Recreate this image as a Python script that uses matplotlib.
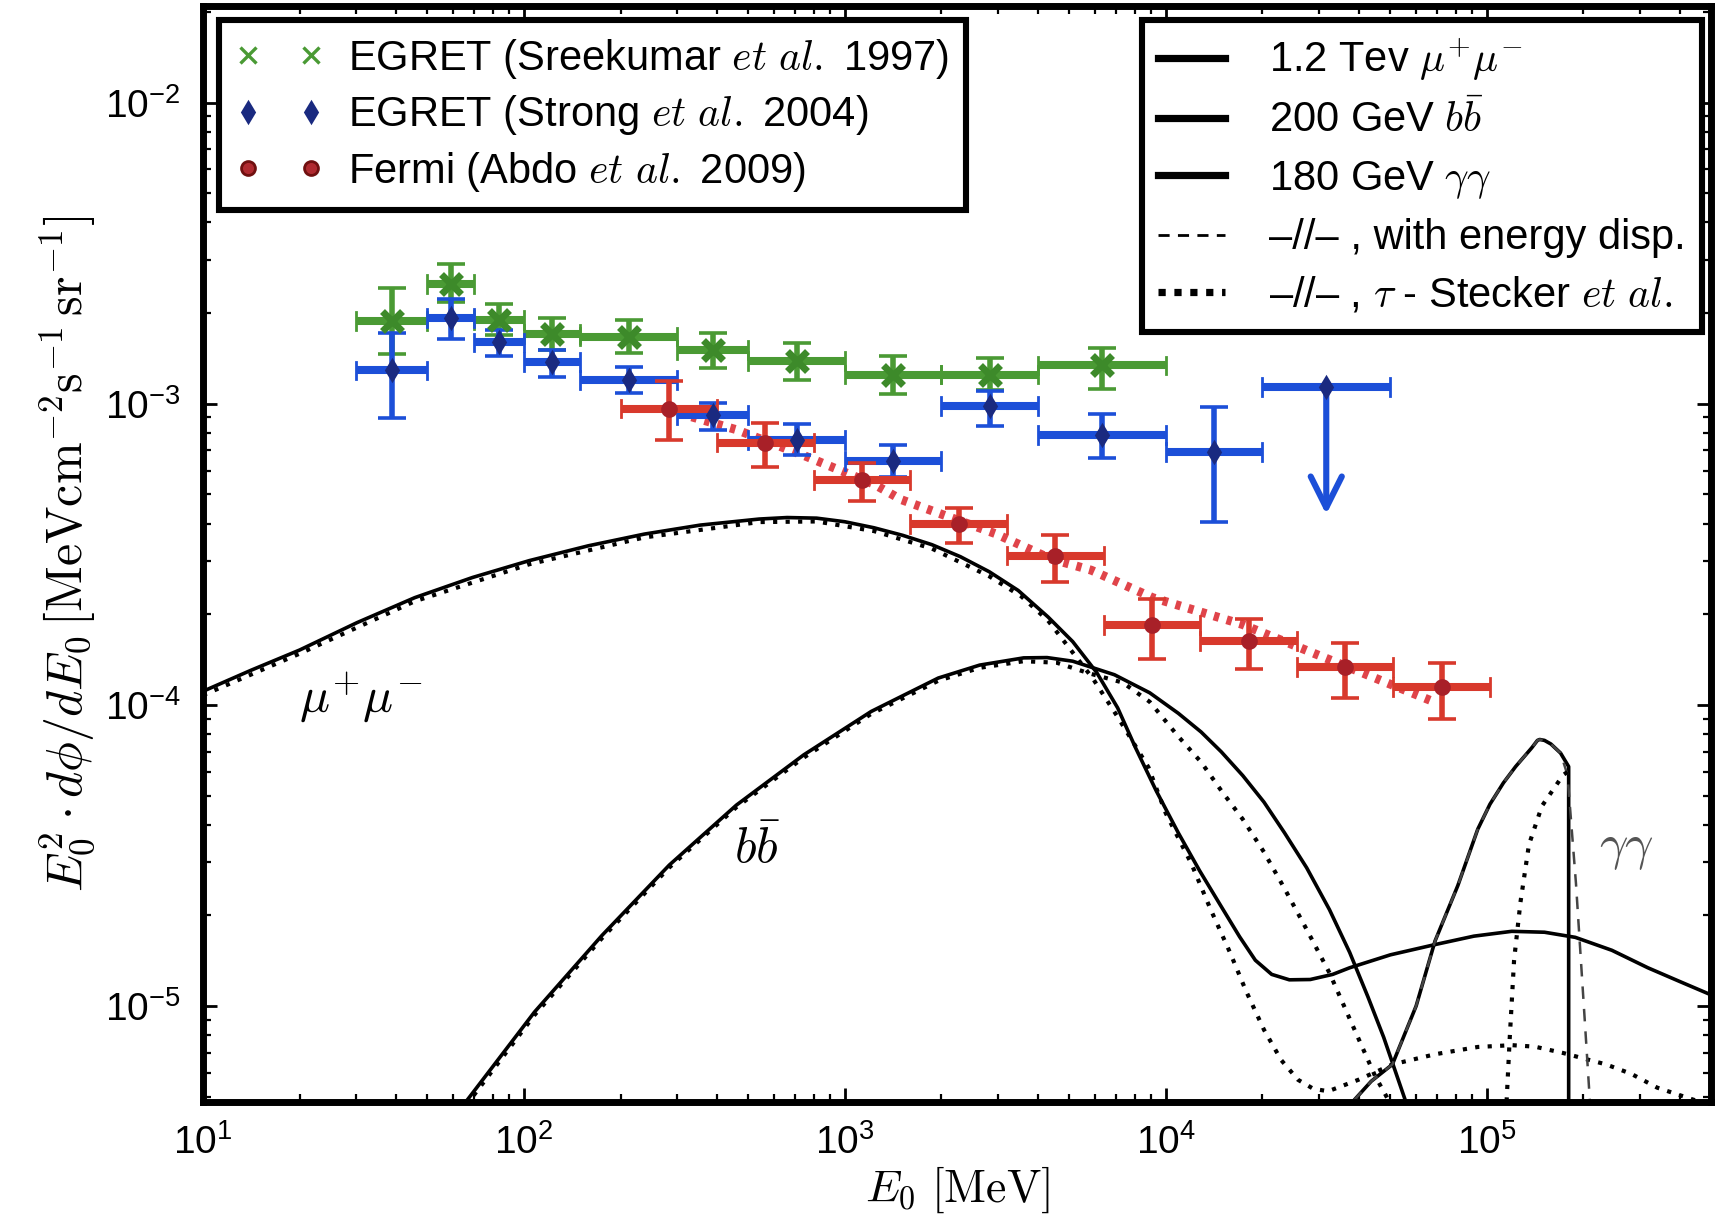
import numpy as np
import matplotlib
matplotlib.use("Agg")
import matplotlib.pyplot as plt
from matplotlib.lines import Line2D

plt.rcParams["font.family"] = ["Liberation Sans", "DejaVu Sans"]
plt.rcParams["mathtext.fontset"] = "cm"

# ---- EGRET (Sreekumar et al. 1997): bins in MeV, flux, error range
sree_lo = np.array([30, 50, 70, 100, 150, 300, 500, 1000, 2000, 4000])
sree_hi = np.array([50, 70, 100, 150, 300, 500, 1000, 2000, 4000, 10000])
sree_y = np.array([1.88e-3, 2.50e-3, 1.90e-3, 1.70e-3, 1.67e-3, 1.51e-3, 1.385e-3, 1.25e-3, 1.25e-3, 1.34e-3])
sree_ylo = np.array([1.46e-3, 2.17e-3, 1.69e-3, 1.51e-3, 1.47e-3, 1.31e-3, 1.195e-3, 1.077e-3, 1.107e-3, 1.12e-3])
sree_yhi = np.array([2.42e-3, 2.92e-3, 2.14e-3, 1.93e-3, 1.89e-3, 1.72e-3, 1.59e-3, 1.444e-3, 1.414e-3, 1.536e-3])

# ---- EGRET (Strong et al. 2004)
strong_lo = np.array([30, 50, 70, 100, 150, 300, 500, 1000, 2000, 4000, 10000])
strong_hi = np.array([50, 70, 100, 150, 300, 500, 1000, 2000, 4000, 10000, 20000])
strong_y = np.array([1.29e-3, 1.93e-3, 1.597e-3, 1.377e-3, 1.20e-3, 9.17e-4, 7.59e-4, 6.46e-4, 9.83e-4, 7.89e-4, 6.90e-4])
strong_ylo = np.array([8.99e-4, 1.64e-3, 1.443e-3, 1.227e-3, 1.085e-3, 8.2e-4, 6.76e-4, 5.71e-4, 8.42e-4, 6.59e-4, 4.06e-4])
strong_yhi = np.array([1.72e-3, 2.22e-3, 1.76e-3, 1.51e-3, 1.324e-3, 1.009e-3, 8.59e-4, 7.31e-4, 1.106e-3, 9.23e-4, 9.72e-4])
# upper limit bin
ul_lo, ul_hi = 20000, 50000
ul_y, ul_arrow_end = 1.136e-3, 4.11e-4

# ---- Fermi (Abdo et al. 2009)
fermi_lo = np.array([200, 400, 800, 1600, 3200, 6400, 12800, 25600, 51200])
fermi_hi = np.array([400, 800, 1600, 3200, 6400, 12800, 25600, 51200, 102400])
fermi_y = np.array([9.64e-4, 7.43e-4, 5.58e-4, 3.99e-4, 3.13e-4, 1.846e-4, 1.626e-4, 1.336e-4, 1.146e-4])
fermi_ylo = np.array([7.55e-4, 6.18e-4, 4.76e-4, 3.44e-4, 2.56e-4, 1.416e-4, 1.315e-4, 1.054e-4, 8.96e-5])
fermi_yhi = np.array([1.19e-3, 8.65e-4, 6.34e-4, 4.52e-4, 3.67e-4, 2.24e-4, 1.93e-4, 1.603e-4, 1.374e-4])

# red dotted band along Fermi points
band_E = [304, 459, 753, 1234, 1500, 2950, 4400, 5860, 9100, 17300, 32000, 69000]
band_y = [9.3e-4, 8.2e-4, 6.7e-4, 5.4e-4, 4.8e-4, 3.7e-4, 3.05e-4, 2.8e-4, 2.27e-4, 1.85e-4, 1.42e-4, 1.02e-4]

# ---- model curves, read off in log10 units (log10 E/MeV, log10 flux)
# 1.2 TeV mu+mu-
mm_logE = [1.0, 1.15, 1.301, 1.48, 1.66, 1.84, 2.017, 2.2, 2.375, 2.55, 2.733, 2.82, 2.912, 3.0,
           3.091, 3.18, 3.271, 3.36, 3.45, 3.54, 3.633, 3.71, 3.785, 3.85, 3.906, 3.97, 4.039,
           4.105, 4.173, 4.23, 4.279, 4.33, 4.385, 4.45, 4.52, 4.573, 4.70, 4.839, 4.96, 5.078,
           5.18, 5.276, 5.39, 5.502, 5.60, 5.699]
mm_logy = [-3.955, -3.885, -3.818, -3.727, -3.644, -3.577, -3.521, -3.472, -3.433, -3.403, -3.383,
           -3.378, -3.380, -3.392, -3.412, -3.437, -3.468, -3.508, -3.558, -3.62, -3.708, -3.79,
           -3.893, -4.01, -4.143, -4.285, -4.425, -4.55, -4.670, -4.77, -4.848, -4.895, -4.913,
           -4.912, -4.895, -4.873, -4.83, -4.796, -4.768, -4.752, -4.755, -4.772, -4.815, -4.873,
           -4.918, -4.963]
mmd_logE = [1.0, 1.301, 1.66, 2.017, 2.375, 2.733, 2.912, 3.091, 3.271, 3.45, 3.55, 3.633, 3.773,
            3.85, 3.946, 4.0, 4.08, 4.14, 4.2, 4.25, 4.306, 4.36, 4.412, 4.46, 4.506, 4.6, 4.706,
            4.84, 4.972, 5.079, 5.15, 5.238, 5.372, 5.45, 5.531, 5.638, 5.70]
mmd_logy = [-3.968, -3.83, -3.656, -3.533, -3.444, -3.393, -3.391, -3.423, -3.481, -3.573, -3.64,
            -3.72, -3.913, -4.04, -4.2075, -4.36, -4.528, -4.68, -4.822, -4.95, -5.079, -5.18,
            -5.245, -5.275, -5.283, -5.245, -5.194, -5.16, -5.136, -5.13, -5.135, -5.156, -5.194,
            -5.225, -5.271, -5.309, -5.33]

# 200 GeV b bbar
bb_logE = [1.82, 2.033, 2.243, 2.453, 2.662, 2.872, 3.082, 3.291, 3.42, 3.557, 3.63, 3.710, 3.840,
           3.95, 4.039, 4.11, 4.173, 4.24, 4.306, 4.37, 4.439, 4.51, 4.573, 4.63, 4.679, 4.745]
bb_logy = [-5.317, -5.020, -4.766, -4.532, -4.333, -4.166, -4.022, -3.911, -3.868, -3.844, -3.843,
           -3.855, -3.900, -3.96, -4.028, -4.09, -4.156, -4.235, -4.323, -4.425, -4.541, -4.68,
           -4.822, -4.97, -5.104, -5.309]
bbd_logE = [1.82, 2.033, 2.243, 2.453, 2.662, 2.872, 3.082, 3.291, 3.42, 3.557, 3.66, 3.76, 3.866,
            3.95, 4.039, 4.11, 4.173, 4.24, 4.306, 4.37, 4.439, 4.51, 4.572, 4.652, 4.692]
bbd_logy = [-5.33, -5.03, -4.775, -4.54, -4.34, -4.175, -4.03, -3.92, -3.877, -3.855, -3.86, -3.895,
            -3.926, -3.99, -4.105, -4.19, -4.285, -4.38, -4.489, -4.61, -4.746, -4.89, -5.04,
            -5.232, -5.309]

# 180 GeV gamma gamma
gg_logE = [4.50, 4.572, 4.64, 4.706, 4.78, 4.839, 4.91, 4.972, 5.01, 5.052, 5.09, 5.119, 5.14,
           5.158, 5.165, 5.18, 5.2, 5.23, 5.2553, 5.2553]
gg_logy = [-5.6, -5.33, -5.25, -5.194, -5.0, -4.784, -4.6, -4.413, -4.33, -4.259, -4.205, -4.169,
           -4.143, -4.118, -4.115, -4.118, -4.13, -4.16, -4.205, -5.5]
ggd_logE = [4.50, 4.572, 4.64, 4.706, 4.78, 4.839, 4.91, 4.972, 5.01, 5.052, 5.09, 5.119, 5.14,
            5.158, 5.165, 5.18, 5.2, 5.23, 5.2515, 5.278, 5.305, 5.321, 5.33]
ggd_logy = [-5.6, -5.33, -5.25, -5.194, -5.0, -4.784, -4.6, -4.413, -4.33, -4.259, -4.205, -4.169,
            -4.143, -4.118, -4.115, -4.118, -4.13, -4.16, -4.232, -4.592, -5.04, -5.309, -5.45]
ggs_logE = [5.058, 5.0718, 5.0852, 5.105, 5.1316, 5.172, 5.238, 5.2553]
ggs_logy = [-5.40, -5.104, -4.848, -4.656, -4.464, -4.336, -4.233, -4.22]

green = "#4a9a34"
blue = "#1c4fd8"
red = "#d8392c"

fig = plt.figure(figsize=(8.6, 6.125), dpi=200)
ax = fig.add_axes([0.118, 0.1004, 0.8768, 0.8951])
ax.set_xscale("log")
ax.set_yscale("log")


def curve(logE, logy, **kw):
    ax.plot(np.power(10.0, logE), np.power(10.0, logy), zorder=2, **kw)


def data_set(lo, hi, y, ylo, yhi, color, marker, mcolor, ms, mew):
    xc = np.sqrt(lo * hi)
    ax.errorbar(xc, y, xerr=[xc - lo, hi - xc], fmt="none", ecolor=color,
                elinewidth=2.9, capsize=0, zorder=3)
    ax.errorbar(xc, y, yerr=[y - ylo, yhi - y], fmt="none", ecolor=color,
                elinewidth=2.0, capsize=5, capthick=1.3, zorder=3)
    # small caps at the ends of the energy bins
    for l, h, v in zip(lo, hi, y):
        ax.plot([l, l], [v / 1.07, v * 1.07], color=color, lw=1.0, zorder=3)
        ax.plot([h, h], [v / 1.07, v * 1.07], color=color, lw=1.0, zorder=3)
    ax.plot(xc, y, linestyle="none", marker=marker, color=mcolor, ms=ms, mew=mew,
            markeredgecolor=mcolor, zorder=4)


# model curves
curve(mm_logE, mm_logy, color="black", lw=1.3)
curve(mmd_logE, mmd_logy, color="black", lw=1.5, ls=(0, (1, 2)))
curve(bb_logE, bb_logy, color="black", lw=1.3)
curve(bbd_logE, bbd_logy, color="black", lw=1.5, ls=(0, (1, 2)))
curve(gg_logE, gg_logy, color="black", lw=1.3)
curve(ggd_logE, ggd_logy, color="#444444", lw=0.9, ls=(0, (5, 4)))
curve(ggs_logE, ggs_logy, color="black", lw=1.5, ls=(0, (1, 2)))

# red dotted band
ax.plot(band_E, band_y, color="#e0444a", lw=3.2, ls=(0, (0.6, 0.9)), zorder=3)

data_set(sree_lo, sree_hi, sree_y, sree_ylo, sree_yhi, green, "x", "#3d8a2a", 7, 2.5)
data_set(strong_lo, strong_hi, strong_y, strong_ylo, strong_yhi, blue, "d", "#1a2a80", 5, 1)
data_set(fermi_lo, fermi_hi, fermi_y, fermi_ylo, fermi_yhi, red, "o", "#a82028", 5, 1)

# upper limit point
ul_c = np.sqrt(ul_lo * ul_hi)
ax.errorbar([ul_c], [ul_y], xerr=[[ul_c - ul_lo], [ul_hi - ul_c]], fmt="none",
            ecolor=blue, elinewidth=2.9, zorder=3)
ax.plot([ul_lo, ul_lo], [ul_y / 1.07, ul_y * 1.07], color=blue, lw=1.0)
ax.plot([ul_hi, ul_hi], [ul_y / 1.07, ul_y * 1.07], color=blue, lw=1.0)
ax.annotate("", xy=(ul_c, ul_arrow_end), xytext=(ul_c, ul_y),
            arrowprops=dict(arrowstyle="->", color=blue, lw=2.2, mutation_scale=28))
ax.plot([ul_c], [ul_y], marker="d", color="#1a2a80", ms=5, zorder=4)

# curve labels
ax.text(31, 1.06e-4, r"$\mu^{+}\mu^{-}$", fontsize=18, ha="center", va="center")
ax.text(533, 3.33e-5, r"$b\bar{b}$", fontsize=18, ha="center", va="center")
ax.text(272000, 3.33e-5, r"$\gamma\gamma$", fontsize=18, ha="center", va="center",
        color="#555555")

ax.set_xlim(10, 5e5)
ax.set_ylim(4.8e-6, 2.1e-2)

ax.set_xlabel(r"$E_0\ [\mathrm{MeV}]$", fontsize=16.5, labelpad=1)
ax.set_ylabel(r"$E_0^2\cdot d\phi/dE_0\,[\mathrm{MeV cm}^{-2}\mathrm{s}^{-1}\,\mathrm{sr}^{-1}]$",
              fontsize=18, labelpad=3)

ax.tick_params(which="both", direction="in", top=True, right=True)
ax.tick_params(which="major", length=5, width=1.0, labelsize=14, pad=8)
ax.tick_params(which="minor", length=2.8, width=0.8)
for sp in ax.spines.values():
    sp.set_linewidth(2.5)

# legends
h1 = [Line2D([], [], ls="none", marker="x", color=green, ms=6, mew=1.2),
      Line2D([], [], ls="none", marker="d", color="#1a2a80", ms=5),
      Line2D([], [], ls="none", marker="o", color="#b02a30", mec="#701010", ms=5)]
l1 = [r"EGRET (Sreekumar $et\ al.$ 1997)",
      r"EGRET (Strong $et\ al.$ 2004)",
      r"Fermi (Abdo $et\ al.$ 2009)"]
leg1 = ax.legend(h1, l1, loc="upper left", bbox_to_anchor=(0.0106, 0.9868),
                 borderaxespad=0, numpoints=2, fontsize=15, fancybox=False,
                 framealpha=1, edgecolor="black", handlelength=2.1,
                 handletextpad=0.6, labelspacing=0.3, borderpad=0.4)
leg1.get_frame().set_linewidth(2.2)
ax.add_artist(leg1)

h2 = [Line2D([], [], color="black", lw=2.6),
      Line2D([], [], color="black", lw=2.6),
      Line2D([], [], color="black", lw=2.6),
      Line2D([], [], color="black", lw=1.0, ls=(0, (4, 3))),
      Line2D([], [], color="black", lw=2.6, ls=(0, (1, 1.2)))]
l2 = ["1.2 Tev $\\mu^{+}\\mu^{-}$",
      "200 GeV $b\\bar{b}$",
      "180 GeV $\\gamma\\gamma$",
      "\u2013//\u2013 , with energy disp.",
      "\u2013//\u2013 , $\\tau$ - Stecker $et\\ al.$"]
leg2 = ax.legend(h2, l2, loc="upper right", bbox_to_anchor=(0.994, 0.9868),
                 borderaxespad=0, fontsize=15, fancybox=False, framealpha=1,
                 edgecolor="black", handlelength=1.6, handletextpad=1.05,
                 labelspacing=0.42, borderpad=0.4)
leg2.get_frame().set_linewidth(2.2)

fig.savefig("out.png", dpi=200)
